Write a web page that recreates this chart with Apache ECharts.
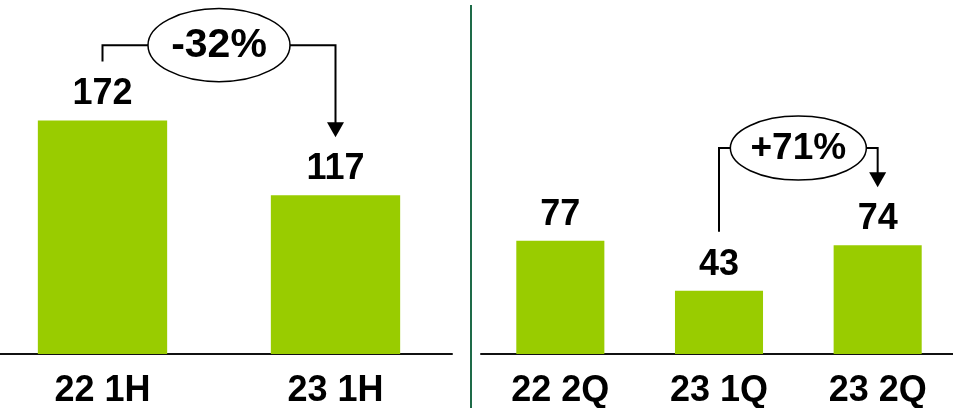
<!DOCTYPE html>
<html>
<head>
<meta charset="utf-8">
<script src="https://cdn.jsdelivr.net/npm/echarts@6/dist/echarts.min.js"></script>
<style>
  html, body { margin: 0; padding: 0; background: #ffffff; }
  #chart { width: 953px; height: 408px; }
</style>
</head>
<body>
<div id="chart"></div>
<script>
// Half-year comparison (left panel)
const halfCategories = ['22 1H', '23 1H'];
const halfValues = [172, 117];

// Quarterly comparison (right panel)
const quarterCategories = ['22 2Q', '23 1Q', '23 2Q'];
const quarterValues = [77, 43, 74];

// Change call-outs: [from index, to index] within each panel
const changeLabels = ['-32%', '+71%'];
const changePairs = [[0, 1], [1, 2]];

const FONT = "'Liberation Sans', Arial, sans-serif";
const BAR_COLOR = '#99cc00';

const chart = echarts.init(document.getElementById('chart'), null, { renderer: 'canvas' });

function xAxisFor(gridIndex, data) {
  return {
    type: 'category',
    gridIndex: gridIndex,
    data: data,
    axisLine: { show: true, lineStyle: { color: '#111111', width: 2 } },
    axisTick: { show: false },
    axisLabel: {
      margin: 19,
      color: '#000000',
      fontFamily: FONT,
      fontWeight: 'bold',
      fontSize: 36
    }
  };
}

function yAxisFor(gridIndex, max) {
  return {
    type: 'value',
    gridIndex: gridIndex,
    min: 0,
    max: max,
    show: false,
    splitLine: { show: false }
  };
}

function barSeries(axisIndex, data) {
  return {
    type: 'bar',
    xAxisIndex: axisIndex,
    yAxisIndex: axisIndex,
    data: data,
    barWidth: '55.5%',
    itemStyle: { color: BAR_COLOR },
    label: {
      show: true,
      position: 'top',
      distance: 8,
      color: '#000000',
      fontFamily: FONT,
      fontWeight: 'bold',
      fontSize: 36
    },
    silent: true
  };
}

chart.setOption({
  animation: false,
  backgroundColor: '#ffffff',
  grid: [
    { left: -14, width: 466, top: 1, height: 353, outerBoundsMode: 'none', containLabel: false },
    { left: 481, width: 476, top: 1, height: 353, outerBoundsMode: 'none', containLabel: false }
  ],
  xAxis: [xAxisFor(0, halfCategories), xAxisFor(1, quarterCategories)],
  yAxis: [yAxisFor(0, 260), yAxisFor(1, 240)],
  series: [barSeries(0, halfValues), barSeries(1, quarterValues)]
});

// Call-out styling per panel: bracket height (axis units), text size, ellipse radii
const calloutStyle = [
  { level: 227.5, fontSize: 41, rx: 71, ry: 36.5 },
  { level: 140, fontSize: 37, rx: 68, ry: 32 }
];
const panelValues = [halfValues, quarterValues];

const graphics = [];

// Divider between the two panels
graphics.push({
  type: 'line',
  shape: { x1: 471, y1: 5, x2: 471, y2: 408 },
  style: { stroke: '#1e6b48', lineWidth: 2 },
  silent: true
});

changePairs.forEach(function (pair, i) {
  const vals = panelValues[i];
  const st = calloutStyle[i];
  const a = chart.convertToPixel({ seriesIndex: i }, [pair[0], vals[pair[0]]]);
  const b = chart.convertToPixel({ seriesIndex: i }, [pair[1], vals[pair[1]]]);
  const ly = chart.convertToPixel({ yAxisIndex: i }, st.level);
  const startY = a[1] - 59;
  const tipY = b[1] - 58;
  const head = 15;

  graphics.push({
    type: 'polyline',
    shape: { points: [[a[0], startY], [a[0], ly], [b[0], ly], [b[0], tipY - head + 1]] },
    style: { stroke: '#000000', lineWidth: 2, fill: null },
    z: 10,
    silent: true
  });
  graphics.push({
    type: 'polygon',
    shape: { points: [[b[0] - 8.5, tipY - head], [b[0] + 8.5, tipY - head], [b[0], tipY]] },
    style: { fill: '#000000' },
    z: 10,
    silent: true
  });
  const cx = (a[0] + b[0]) / 2;
  graphics.push({
    type: 'ellipse',
    shape: { cx: cx, cy: ly, rx: st.rx, ry: st.ry },
    style: { fill: '#ffffff', stroke: '#000000', lineWidth: 1.5 },
    z: 11,
    silent: true
  });
  graphics.push({
    type: 'text',
    x: cx,
    y: ly + 1,
    style: {
      text: changeLabels[i],
      fill: '#000000',
      font: 'bold ' + st.fontSize + 'px ' + FONT,
      align: 'center',
      verticalAlign: 'middle',
      textAlign: 'center',
      textVerticalAlign: 'middle'
    },
    z: 12,
    silent: true
  });
});

chart.setOption({ graphic: graphics });
</script>
</body>
</html>
